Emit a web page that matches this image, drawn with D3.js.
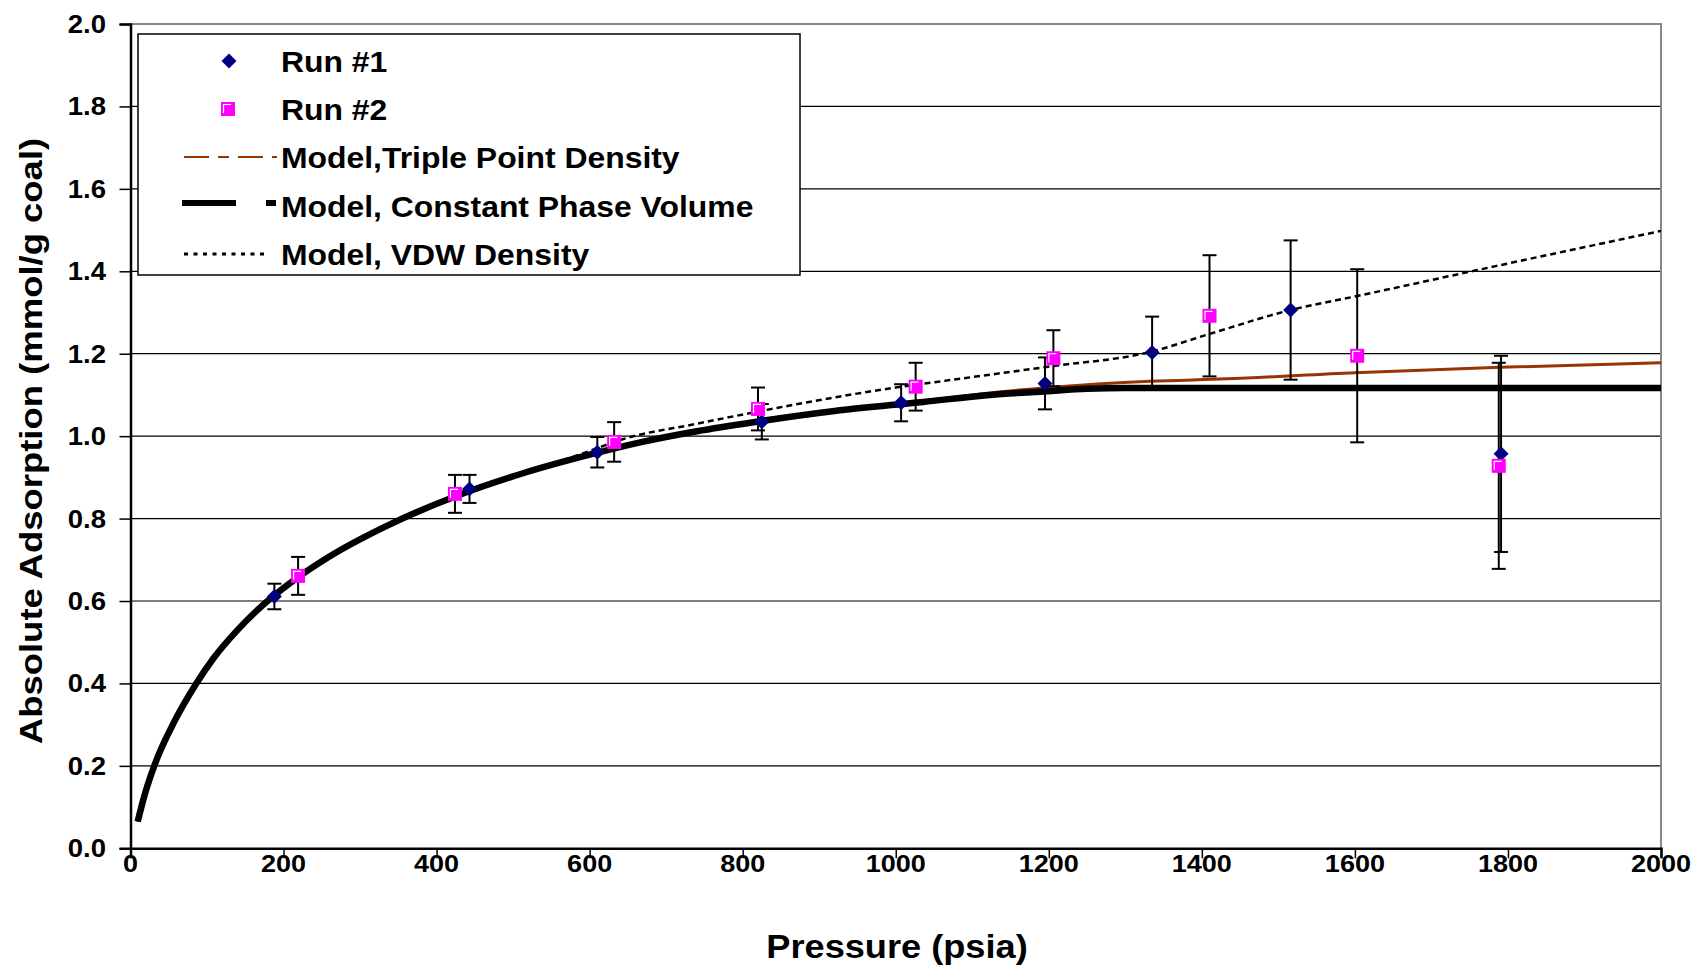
<!DOCTYPE html>
<html>
<head>
<meta charset="utf-8">
<script src="https://cdn.jsdelivr.net/npm/d3@7"></script>
<style>
  body { margin: 0; background: #fff; }
  text { font-family: "Liberation Sans", Arial, sans-serif; font-weight: bold; fill: #000; }
</style>
</head>
<body>
<svg id="chart" width="1701" height="970"></svg>
<script>
// Run #1 measurements (pressure psia, absolute adsorption mmol/g, error)
var run1P = [188, 443, 610, 825, 1007, 1195, 1335, 1516, 1791];
var run1A = [0.611, 0.872, 0.961, 1.035, 1.081, 1.128, 1.203, 1.306, 0.957];
var run1E = [0.031, 0.034, 0.037, 0.043, 0.045, 0.063, 0.087, 0.169, 0.238];

// Run #2 measurements
var run2P = [219, 424, 632, 820, 1026, 1206, 1410, 1603, 1788];
var run2A = [0.661, 0.860, 0.986, 1.066, 1.120, 1.189, 1.292, 1.195, 0.928];
var run2E = [0.046, 0.046, 0.048, 0.052, 0.058, 0.068, 0.147, 0.210, 0.250];

// Model, Constant Phase Volume
var cpvP = [9.4, 19, 32, 58, 86, 108, 140, 174, 208, 260, 339, 426, 513, 600, 666, 740, 818, 920, 1036, 1123, 1197, 1250, 1300, 1400, 1600, 1800, 2000];
var cpvA = [0.065, 0.133, 0.205, 0.31, 0.4, 0.46, 0.53, 0.592, 0.643, 0.708, 0.786, 0.855, 0.91, 0.955, 0.985, 1.012, 1.035, 1.061, 1.083, 1.100, 1.109, 1.115, 1.117, 1.117, 1.117, 1.117, 1.117];

// Model, Triple Point Density
var tpdP = [9.4, 19, 32, 58, 86, 108, 140, 174, 208, 260, 339, 426, 513, 600, 666, 740, 818, 920, 1036, 1123, 1200, 1332, 1432, 1600, 1790, 2000];
var tpdA = [0.065, 0.133, 0.205, 0.31, 0.4, 0.46, 0.53, 0.592, 0.643, 0.708, 0.786, 0.855, 0.91, 0.955, 0.985, 1.012, 1.035, 1.062, 1.086, 1.105, 1.118, 1.133, 1.139, 1.154, 1.167, 1.178];

// Model, VDW Density
var vdwP = [9.4, 19, 32, 58, 86, 108, 140, 174, 208, 260, 339, 426, 513, 560, 600, 644, 740, 818, 1000, 1071, 1197, 1334, 1410, 1516, 1603, 1760, 2000];
var vdwA = [0.065, 0.133, 0.205, 0.31, 0.4, 0.46, 0.53, 0.592, 0.643, 0.708, 0.786, 0.855, 0.91, 0.938, 0.964, 0.993, 1.03, 1.059, 1.118, 1.136, 1.168, 1.205, 1.248, 1.306, 1.340, 1.403, 1.498];

var xTicks = [0, 200, 400, 600, 800, 1000, 1200, 1400, 1600, 1800, 2000];
var yTicks = [0, 0.2, 0.4, 0.6, 0.8, 1.0, 1.2, 1.4, 1.6, 1.8, 2.0];

var legendNames = ["Run #1", "Run #2", "Model,Triple Point Density", "Model, Constant Phase Volume", "Model, VDW Density"];

const plotLeft = 130.5, plotRight = 1661, plotTop = 24, plotBottom = 848.3;
const navy = "#000080", pink = "#ff00ff", brown = "#993300";

var x = d3.scaleLinear().domain([0, 2000]).range([plotLeft, plotRight]);
var y = d3.scaleLinear().domain([0, 2]).range([plotBottom, plotTop]);

var svg = d3.select("svg#chart");

// horizontal grid lines
svg.append("g")
    .selectAll("line")
    .data(yTicks.slice(1, -1))
    .enter()
  .append("line")
    .attr("x1", plotLeft).attr("x2", plotRight)
    .attr("y1", d => y(d)).attr("y2", d => y(d))
    .attr("stroke", "#000").attr("stroke-width", 1.2);

// top and right frame (grey)
svg.append("path")
    .attr("d", "M" + plotLeft + "," + plotTop + "H" + plotRight + "V" + plotBottom)
    .attr("fill", "none").attr("stroke", "#888").attr("stroke-width", 2);

function zip(ps, as) { return ps.map((p, i) => [p, as[i]]); }

var line = d3.line().x(d => x(d[0])).y(d => y(d[1])).curve(d3.curveMonotoneX);

svg.append("path")
    .datum(zip(tpdP, tpdA))
    .attr("d", line)
    .attr("fill", "none").attr("stroke", brown).attr("stroke-width", 3);

svg.append("path")
    .datum(zip(vdwP, vdwA))
    .attr("d", line)
    .attr("fill", "none").attr("stroke", "#000").attr("stroke-width", 2.5)
    .attr("stroke-dasharray", "6,4");

svg.append("path")
    .datum(zip(cpvP, cpvA))
    .attr("d", line)
    .attr("fill", "none").attr("stroke", "#000").attr("stroke-width", 6.5);

// error bars
function errorBars(ps, as, es) {
    var g = svg.append("g").attr("stroke", "#000").attr("stroke-width", 2);
    var pts = ps.map((p, i) => ({p: p, a: as[i], e: es[i]}));
    g.selectAll(null).data(pts).enter().append("line")
        .attr("x1", d => x(d.p)).attr("x2", d => x(d.p))
        .attr("y1", d => y(d.a - d.e)).attr("y2", d => y(d.a + d.e));
    g.selectAll(null).data(pts).enter().append("line")
        .attr("x1", d => x(d.p) - 7).attr("x2", d => x(d.p) + 7)
        .attr("y1", d => y(d.a + d.e)).attr("y2", d => y(d.a + d.e));
    g.selectAll(null).data(pts).enter().append("line")
        .attr("x1", d => x(d.p) - 7).attr("x2", d => x(d.p) + 7)
        .attr("y1", d => y(d.a - d.e)).attr("y2", d => y(d.a - d.e));
}
errorBars(run1P, run1A, run1E);
errorBars(run2P, run2A, run2E);

function diamond(sel) {
    sel.append("path").attr("d", "M0,-7.5L7.5,0L0,7.5L-7.5,0Z").attr("fill", navy);
}
function square(sel) {
    sel.append("rect").attr("x", -7).attr("y", -7).attr("width", 14).attr("height", 14).attr("fill", pink);
    sel.append("path").attr("d", "M-4.5,4V-4.5H3").attr("fill", "none").attr("stroke", "#fff").attr("stroke-width", 1.2);
}

svg.append("g").selectAll("g")
    .data(zip(run1P, run1A)).enter().append("g")
    .attr("transform", d => "translate(" + x(d[0]) + "," + y(d[1]) + ")")
    .each(function() { diamond(d3.select(this)); });

svg.append("g").selectAll("g")
    .data(zip(run2P, run2A)).enter().append("g")
    .attr("transform", d => "translate(" + x(d[0]) + "," + y(d[1]) + ")")
    .each(function() { square(d3.select(this)); });

// axes
var xAxis = svg.append("g")
    .attr("transform", "translate(0," + plotBottom + ")")
    .call(d3.axisBottom(x).tickValues(xTicks).tickSize(10).tickFormat(d3.format("d")));
var yAxis = svg.append("g")
    .attr("transform", "translate(" + plotLeft + ",0)")
    .call(d3.axisLeft(y).tickValues(yTicks).tickSize(11).tickFormat(d3.format(".1f")));

[xAxis, yAxis].forEach(a => {
    a.select(".domain").attr("stroke", "#000").attr("stroke-width", 2.5);
    a.selectAll(".tick line").attr("stroke", "#000").attr("stroke-width", 1.5);
    a.selectAll("text").remove();
});

// tick labels, slightly wide like the original
svg.append("g").selectAll("text")
    .data(xTicks).enter().append("text")
    .attr("transform", d => "translate(" + x(d) + ",872) scale(1.15,1)")
    .attr("text-anchor", "middle")
    .style("font-size", "23.5px")
    .text(d => d);

svg.append("g").selectAll("text")
    .data(yTicks).enter().append("text")
    .attr("transform", d => "translate(106," + (y(d) + 9) + ") scale(1.1,1)")
    .attr("text-anchor", "end")
    .style("font-size", "25px")
    .text(d => d.toFixed(1));

// axis titles
svg.append("text")
    .attr("transform", "translate(897,958) scale(1.08,1)")
    .attr("text-anchor", "middle")
    .style("font-size", "33.5px")
    .text("Pressure (psia)");

svg.append("text")
    .attr("transform", "translate(42,441) rotate(-90) scale(1.14,1)")
    .attr("text-anchor", "middle")
    .style("font-size", "32px")
    .text("Absolute Adsorption (mmol/g coal)");

// legend
var legend = svg.append("g");
legend.append("rect")
    .attr("x", 138).attr("y", 34).attr("width", 662).attr("height", 241)
    .attr("fill", "#fff").attr("stroke", "#000").attr("stroke-width", 1.5);

var rowY = [61, 109, 157, 206, 254];

diamond(legend.append("g").attr("transform", "translate(229," + rowY[0] + ")"));
square(legend.append("g").attr("transform", "translate(228," + rowY[1] + ")"));
legend.append("line")
    .attr("x1", 184).attr("x2", 277).attr("y1", rowY[2]).attr("y2", rowY[2])
    .attr("stroke", brown).attr("stroke-width", 2).attr("stroke-dasharray", "25,9,11,9");
legend.append("line")
    .attr("x1", 182).attr("x2", 276).attr("y1", rowY[3] - 3).attr("y2", rowY[3] - 3)
    .attr("stroke", "#000").attr("stroke-width", 6).attr("stroke-dasharray", "54,30,10");
legend.append("line")
    .attr("x1", 184).attr("x2", 268).attr("y1", rowY[4]).attr("y2", rowY[4])
    .attr("stroke", "#000").attr("stroke-width", 3).attr("stroke-dasharray", "4,5.5");

legend.selectAll("text")
    .data(legendNames).enter().append("text")
    .attr("transform", (d, i) => "translate(281," + (rowY[i] + 10.5) + ") scale(1.1,1)")
    .style("font-size", "29px")
    .text(d => d);
</script>
</body>
</html>
